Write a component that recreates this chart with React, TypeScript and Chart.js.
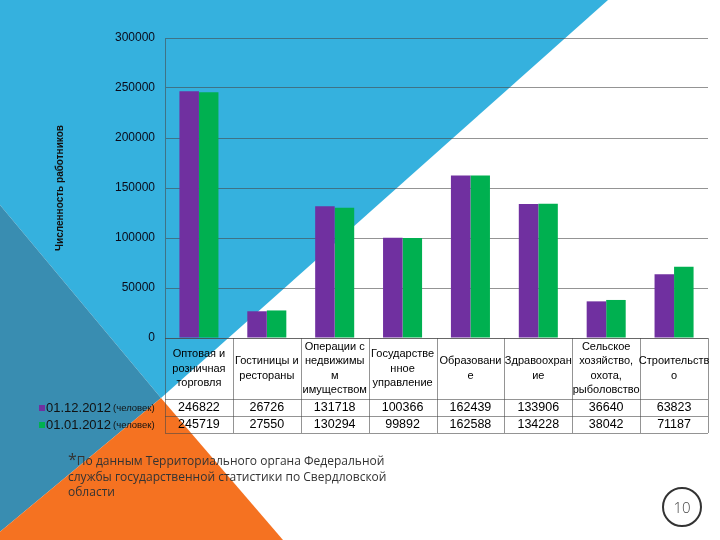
import React, { useEffect, useRef } from "react";
import { Chart, registerables } from "chart.js";

Chart.register(...registerables);

const categories: string[][] = [
  ["Оптовая и", "розничная", "торговля"],
  ["Гостиницы и", "рестораны"],
  ["Операции с", "недвижимы", "м", "имуществом"],
  ["Государстве", "нное", "управление"],
  ["Образовани", "е"],
  ["Здравоохран", "ие"],
  ["Сельское", "хозяйство,", "охота,", "рыболовство"],
  ["Строительств", "о"],
];
const seriesDates = ["01.12.2012", "01.01.2012"];
const seriesUnit = "(человек)";
const valuesDec2012 = [246822, 26726, 131718, 100366, 162439, 133906, 36640, 63823];
const valuesJan2012 = [245719, 27550, 130294, 99892, 162588, 134228, 38042, 71187];
const seriesColors = ["#7030A0", "#00B050"];
const yTitle = "Численность работников";
const footnoteLines = [
  "По данным Территориального органа Федеральной",
  "службы государственной статистики по Свердловской",
  "области",
];
const pageNumber = "10";

const GRID = "rgba(70,70,70,0.58)";
const FONT = '"Liberation Sans", Arial, sans-serif';

const backgroundPlugin = {
  id: "slideBackground",
  beforeDraw(chart: any) {
    const { ctx, width, height } = chart;
    ctx.save();
    ctx.fillStyle = "#ffffff";
    ctx.fillRect(0, 0, width, height);
    ctx.fillStyle = "#35B1DE";
    ctx.beginPath();
    ctx.moveTo(0, 0);
    ctx.lineTo(608, 0);
    ctx.lineTo(161, 398);
    ctx.lineTo(0, 205);
    ctx.closePath();
    ctx.fill();
    ctx.fillStyle = "#398DB1";
    ctx.beginPath();
    ctx.moveTo(0, 205);
    ctx.lineTo(161, 398);
    ctx.lineTo(-10, 540);
    ctx.lineTo(0, 540);
    ctx.closePath();
    ctx.fill();
    ctx.fillStyle = "#F57221";
    ctx.beginPath();
    ctx.moveTo(161, 398);
    ctx.lineTo(283, 540);
    ctx.lineTo(-10, 540);
    ctx.closePath();
    ctx.fill();
    ctx.restore();
  },
};

const tablePlugin = {
  id: "dataTable",
  afterDraw(chart: any) {
    const { ctx, chartArea } = chart;
    const xs = chart.scales.x;
    const n = categories.length;
    const left = chartArea.left;
    const right = chartArea.right;
    const colW = (right - left) / n;
    const top = chartArea.bottom;
    const headerH = 61;
    const rowH = 17;
    const rows = [top, top + headerH, top + headerH + rowH, top + headerH + 2 * rowH];
    ctx.save();
    ctx.strokeStyle = GRID;
    ctx.lineWidth = 1;
    ctx.beginPath();
    rows.forEach((y) => {
      ctx.moveTo(left, Math.round(y) + 0.5);
      ctx.lineTo(right, Math.round(y) + 0.5);
    });
    for (let i = 0; i <= n; i++) {
      const x = Math.round(left + i * colW) + 0.5;
      ctx.moveTo(x, rows[0]);
      ctx.lineTo(x, rows[3]);
    }
    ctx.stroke();

    ctx.fillStyle = "#000";
    ctx.textAlign = "center";
    ctx.textBaseline = "middle";
    ctx.font = `11px ${FONT}`;
    const lh = 14.2;
    const hc = (rows[0] + rows[1]) / 2;
    categories.forEach((lines, i) => {
      const cx = xs.getPixelForValue(i);
      const y0 = hc - ((lines.length - 1) * lh) / 2;
      lines.forEach((t, k) => ctx.fillText(t, cx, y0 + k * lh));
    });

    ctx.font = `12.5px ${FONT}`;
    const series = [valuesDec2012, valuesJan2012];
    series.forEach((vals, r) => {
      const cy = (rows[r + 1] + rows[r + 2]) / 2 + 0.5;
      vals.forEach((v, i) => {
        ctx.fillText(String(v), xs.getPixelForValue(i), cy);
      });
      ctx.fillStyle = seriesColors[r];
      ctx.fillRect(39, cy - 3, 6, 6);
      ctx.fillStyle = "#111";
      ctx.textAlign = "left";
      ctx.font = `13px ${FONT}`;
      ctx.fillText(seriesDates[r], 46, cy);
      const w = ctx.measureText(seriesDates[r]).width;
      ctx.font = `9.5px ${FONT}`;
      ctx.fillText(seriesUnit, 46 + w + 2, cy);
      ctx.fillStyle = "#000";
      ctx.textAlign = "center";
      ctx.font = `12.5px ${FONT}`;
    });
    ctx.restore();
  },
};

export default function App() {
  const ref = useRef<HTMLCanvasElement | null>(null);

  useEffect(() => {
    if (!ref.current) return;
    const chart = new Chart(ref.current, {
      type: "bar",
      data: {
        labels: categories.map((c) => c.join(" ")),
        datasets: [
          {
            label: `${seriesDates[0]} ${seriesUnit}`,
            data: valuesDec2012,
            backgroundColor: seriesColors[0],
            borderWidth: 0,
            barPercentage: 1,
            categoryPercentage: 0.575,
          },
          {
            label: `${seriesDates[1]} ${seriesUnit}`,
            data: valuesJan2012,
            backgroundColor: seriesColors[1],
            borderWidth: 0,
            barPercentage: 1,
            categoryPercentage: 0.575,
          },
        ],
      },
      options: {
        responsive: false,
        animation: false,
        devicePixelRatio: 1,
        layout: { padding: { left: 0, top: 38, right: 12, bottom: 202 } },
        plugins: {
          legend: { display: false },
          tooltip: { enabled: false },
          title: { display: false },
        },
        scales: {
          x: { display: false },
          y: {
            min: 0,
            max: 300000,
            afterFit: (s: any) => {
              s.width = 165;
            },
            ticks: {
              stepSize: 50000,
              padding: 10,
              color: "#0a0a1a",
              font: { family: FONT, size: 12 },
              callback: (v: any) => String(v),
            },
            grid: { color: GRID, drawTicks: false },
            border: { display: true, color: GRID },
            title: {
              display: true,
              text: yTitle,
              color: "#111",
              font: { family: FONT, size: 10, weight: "bold" },
              padding: { top: 54, bottom: 0 },
            },
          },
        },
      },
      plugins: [backgroundPlugin, tablePlugin],
    } as any);
    return () => chart.destroy();
  }, []);

  return (
    <div style={{ position: "fixed", left: 0, top: 0, width: 720, height: 540, overflow: "hidden" }}>
      <canvas ref={ref} width={720} height={540} style={{ display: "block" }} />
      <div
        style={{
          position: "absolute",
          left: 68,
          top: 453,
          fontFamily: '"Open Sans", sans-serif',
          fontSize: 12,
          lineHeight: "15.5px",
          color: "#333",
          letterSpacing: "0px",
          whiteSpace: "nowrap",
        }}
      >
        {footnoteLines.map((t, i) => (
          <div key={i}>
            {i === 0 ? <span style={{ fontSize: 16, lineHeight: "10px" }}>*</span> : null}
            {t}
          </div>
        ))}
      </div>
      <div
        style={{
          position: "absolute",
          left: 662,
          top: 487,
          width: 40,
          height: 40,
          boxSizing: "border-box",
          border: "2px solid #333",
          borderRadius: "50%",
          display: "flex",
          alignItems: "center",
          justifyContent: "center",
          fontFamily: '"Open Sans", sans-serif',
          fontWeight: 300,
          fontSize: 15,
          color: "#444",
        }}
      >
        {pageNumber}
      </div>
    </div>
  );
}
